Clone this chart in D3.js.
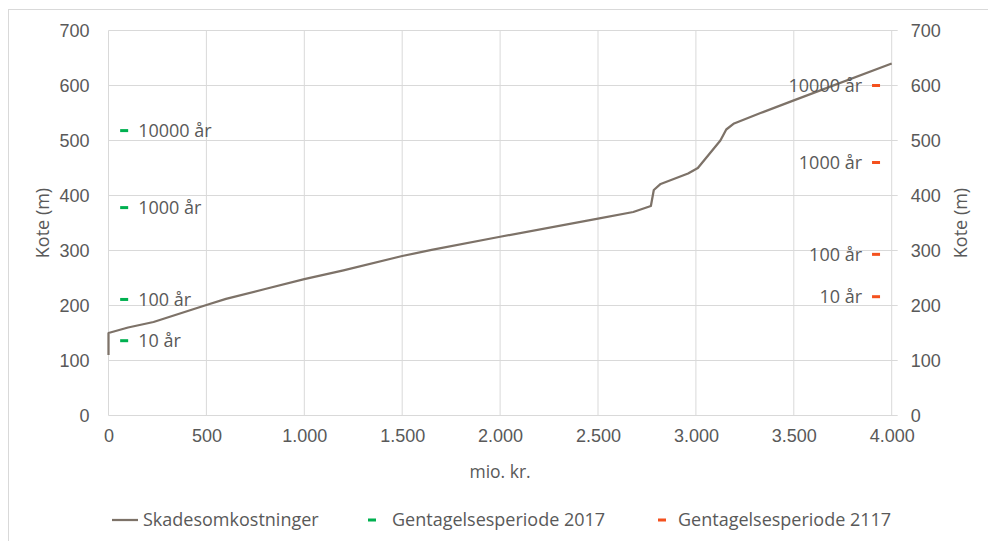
<!DOCTYPE html>
<html>
<head>
<meta charset="utf-8">
<script src="https://cdn.jsdelivr.net/npm/d3@7"></script>
<style>
  body { margin: 0; background: #fff; }
  svg { font-family: "Open Sans", "Liberation Sans", sans-serif; }
  .tick text { fill: #595959; font-size: 18px; }
</style>
</head>
<body>
<svg id="chart" width="988" height="541"></svg>
<script>
// Skadesomkostninger (mio. kr.) vs kote (m)
const costs = [0, 0, 100, 230, 500, 600, 800, 1000, 1200, 1500, 1650, 2000, 2500, 2680, 2770, 2785, 2820, 2960, 3010, 3125, 3155, 3195, 3330, 3500, 4000];
const levels = [110, 150, 160, 170, 201, 212, 230, 248, 264, 290, 301, 325, 358, 370, 381, 410, 421, 440, 450, 500, 520, 531, 550, 573, 640];

// gentagelsesperioder
const periodLabels = ['10 år', '100 år', '1000 år', '10000 år'];
const kote2017 = [136, 211, 378, 518];
const kote2117 = [216, 293, 460, 600];
const cost2017 = [80, 80, 80, 80];
const cost2117 = [3920, 3920, 3920, 3920];

const xTicks = [0, 500, 1000, 1500, 2000, 2500, 3000, 3500, 4000];
const yTicks = [0, 100, 200, 300, 400, 500, 600, 700];

const textColor = '#595959';
const gridColor = '#d9d9d9';
const lineColor = '#7d7268';
const green = '#00b050';
const red = '#f4511e';

const svg = d3.select('#chart');
const margin = {top: 30.5, right: 96.3, bottom: 125.5, left: 108.5};
const width = 988 - margin.left - margin.right;
const height = 541 - margin.top - margin.bottom;

// outer border
svg.append('rect')
    .attr('x', 8.5).attr('y', 9.5)
    .attr('width', 1000).attr('height', 600)
    .attr('fill', 'none')
    .attr('stroke', gridColor);

const chart = svg.append('g')
    .attr('transform', `translate(${margin.left}, ${margin.top})`);

const xScale = d3.scaleLinear().domain([0, 4000]).range([0, width]);
const yScale = d3.scaleLinear().domain([0, 700]).range([height, 0]);

const fmt = d3.formatLocale({decimal: ',', thousands: '.', grouping: [3], currency: ['', ' kr.']}).format(',d');

// grid
chart.append('g')
    .selectAll('line.h')
    .data(yTicks)
    .enter()
    .append('line')
    .attr('x1', 0)
    .attr('x2', width + 6)
    .attr('y1', (d) => yScale(d))
    .attr('y2', (d) => yScale(d))
    .attr('stroke', gridColor);

chart.append('g')
    .selectAll('line.v')
    .data(xTicks)
    .enter()
    .append('line')
    .attr('x1', (d) => xScale(d))
    .attr('x2', (d) => xScale(d))
    .attr('y1', 0)
    .attr('y2', height)
    .attr('stroke', gridColor);

// axes (labels only)
const xAxis = chart.append('g')
    .attr('transform', `translate(0, ${height})`)
    .call(d3.axisBottom(xScale).tickValues(xTicks).tickFormat(fmt).tickSize(0).tickPadding(14));

const yLeft = chart.append('g')
    .call(d3.axisLeft(yScale).tickValues(yTicks).tickSize(0).tickPadding(19));

const yRight = chart.append('g')
    .attr('transform', `translate(${width}, 0)`)
    .call(d3.axisRight(yScale).tickValues(yTicks).tickSize(0).tickPadding(19));

[xAxis, yLeft, yRight].forEach((a) => a.select('.domain').remove());

// main line
const line = d3.line()
    .x((d, i) => xScale(costs[i]))
    .y((d) => yScale(d));

chart.append('path')
    .datum(levels)
    .attr('d', line)
    .attr('fill', 'none')
    .attr('stroke', lineColor)
    .attr('stroke-width', 2.25)
    .attr('stroke-linejoin', 'round');

// return period markers
function drawPeriods(xs, ys, color, side) {
    const g = chart.append('g');
    const items = g.selectAll('g')
        .data(ys)
        .enter()
        .append('g')
        .attr('transform', (d, i) => `translate(${xScale(xs[i])}, ${yScale(d)})`);
    items.append('rect')
        .attr('x', -4).attr('y', -1.5)
        .attr('width', 8).attr('height', 3)
        .attr('fill', color);
    items.append('text')
        .attr('x', side * 14)
        .attr('dy', '0.36em')
        .attr('text-anchor', side > 0 ? 'start' : 'end')
        .attr('fill', textColor)
        .attr('font-size', '18px')
        .text((d, i) => periodLabels[i]);
}
drawPeriods(cost2017, kote2017, green, 1);
drawPeriods(cost2117, kote2117, red, -1);

// axis titles
svg.append('text')
    .attr('transform', `translate(43, ${margin.top + height / 2}) rotate(-90)`)
    .attr('text-anchor', 'middle')
    .attr('dy', '0.35em')
    .attr('fill', textColor)
    .attr('font-size', '18px')
    .text('Kote (m)');

svg.append('text')
    .attr('transform', `translate(961, ${margin.top + height / 2}) rotate(-90)`)
    .attr('text-anchor', 'middle')
    .attr('dy', '0.35em')
    .attr('fill', textColor)
    .attr('font-size', '18px')
    .text('Kote (m)');

svg.append('text')
    .attr('x', margin.left + width / 2)
    .attr('y', 472)
    .attr('text-anchor', 'middle')
    .attr('dy', '0.35em')
    .attr('fill', textColor)
    .attr('font-size', '17.5px')
    .text('mio. kr.');

// legend
const legend = svg.append('g').attr('transform', 'translate(0, 520)');
legend.append('line')
    .attr('x1', 112).attr('x2', 138)
    .attr('stroke', lineColor).attr('stroke-width', 2.25);
legend.append('rect').attr('x', 368).attr('y', -1.5).attr('width', 8).attr('height', 3).attr('fill', green);
legend.append('rect').attr('x', 658).attr('y', -1.5).attr('width', 8).attr('height', 3).attr('fill', red);
const legendText = [['Skadesomkostninger', 143], ['Gentagelsesperiode 2017', 392], ['Gentagelsesperiode 2117', 678]];
legend.selectAll('text')
    .data(legendText)
    .enter()
    .append('text')
    .attr('x', (d) => d[1])
    .attr('dy', '0.35em')
    .attr('fill', textColor)
    .attr('font-size', '18px')
    .text((d) => d[0]);
</script>
</body>
</html>
